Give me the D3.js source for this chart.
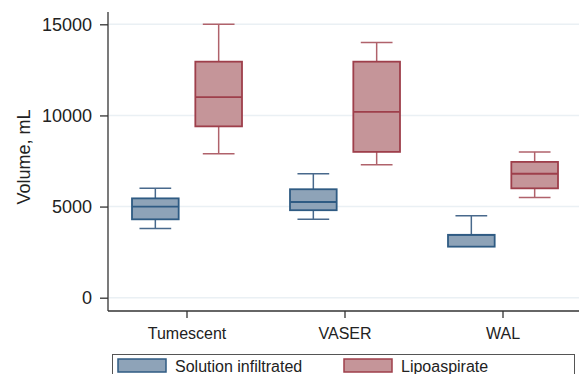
<!DOCTYPE html>
<html>
<head>
<meta charset="utf-8">
<script src="https://cdn.jsdelivr.net/npm/d3@7"></script>
<style>
  body { margin: 0; background: #fff; }
  svg { font-family: "Liberation Sans", Arial, sans-serif; }
</style>
</head>
<body>
<div id="chart"></div>
<script>
// data
var categories = ["Tumescent", "VASER", "WAL"];
var series = ["Solution infiltrated", "Lipoaspirate"];
// [low whisker, Q1, median, Q3, high whisker]
var solutionStats = [
  [3800, 4300, 5000, 5450, 6000],
  [4300, 4800, 5250, 5950, 6800],
  [2800, 2800, 3450, 3450, 4500]
];
var lipoStats = [
  [7900, 9400, 11000, 12950, 15000],
  [7300, 8000, 10200, 12950, 14000],
  [5500, 6000, 6800, 7450, 8000]
];
var yTicks = [0, 5000, 10000, 15000];

var W = 579, H = 374;
var fills = ["#8ea3b8", "#c59599"];
var strokes = ["#2f5b83", "#9e3f4b"];
var whiskerCols = ["#48698c", "#b0626b"];

var svg = d3.select("#chart").append("svg")
    .attr("width", W).attr("height", H);

var y = d3.scaleLinear().domain([0, 15000]).range([297.7, 24.3]);
var x = d3.scaleBand().domain(categories).range([108, 582]).padding(0);
var sub = d3.scaleBand().domain(series).range([-55, 55]).paddingInner(0.263);

// gridlines
svg.append("g").selectAll("line")
    .data(yTicks)
  .enter().append("line")
    .attr("x1", 109).attr("x2", W)
    .attr("y1", function(d) { return y(d); })
    .attr("y2", function(d) { return y(d); })
    .attr("stroke", "#eaf0f4").attr("stroke-width", 1.5);

// boxes
var rows = [];
categories.forEach(function(c, i) {
  rows.push({cat: c, s: 0, v: solutionStats[i]});
  rows.push({cat: c, s: 1, v: lipoStats[i]});
});

var g = svg.append("g").selectAll("g")
    .data(rows)
  .enter().append("g")
    .attr("transform", function(d) {
      return "translate(" + (x(d.cat) + x.bandwidth() / 2 + sub(series[d.s]) + sub.bandwidth() / 2) + ",0)";
    });

var bw = sub.bandwidth();
var capW = bw * 0.68;

// whiskers
g.append("line")
    .attr("x1", 0).attr("x2", 0)
    .attr("y1", function(d) { return y(d.v[4]); })
    .attr("y2", function(d) { return y(d.v[3]); })
    .attr("stroke", function(d) { return whiskerCols[d.s]; }).attr("stroke-width", 1.5);
g.append("line")
    .attr("x1", 0).attr("x2", 0)
    .attr("y1", function(d) { return y(d.v[1]); })
    .attr("y2", function(d) { return y(d.v[0]); })
    .attr("stroke", function(d) { return whiskerCols[d.s]; }).attr("stroke-width", 1.5);
g.append("line")
    .attr("x1", -capW / 2).attr("x2", capW / 2)
    .attr("y1", function(d) { return y(d.v[4]); })
    .attr("y2", function(d) { return y(d.v[4]); })
    .attr("stroke", function(d) { return whiskerCols[d.s]; }).attr("stroke-width", 1.5);
g.filter(function(d) { return d.v[0] < d.v[1]; }).append("line")
    .attr("x1", -capW / 2).attr("x2", capW / 2)
    .attr("y1", function(d) { return y(d.v[0]); })
    .attr("y2", function(d) { return y(d.v[0]); })
    .attr("stroke", function(d) { return whiskerCols[d.s]; }).attr("stroke-width", 1.5);

g.append("rect")
    .attr("x", -bw / 2).attr("width", bw)
    .attr("y", function(d) { return y(d.v[3]); })
    .attr("height", function(d) { return y(d.v[1]) - y(d.v[3]); })
    .attr("fill", function(d) { return fills[d.s]; })
    .attr("stroke", function(d) { return strokes[d.s]; })
    .attr("stroke-width", 1.8);
g.append("line")
    .attr("x1", -bw / 2).attr("x2", bw / 2)
    .attr("y1", function(d) { return y(d.v[2]); })
    .attr("y2", function(d) { return y(d.v[2]); })
    .attr("stroke", function(d) { return strokes[d.s]; })
    .attr("stroke-width", 1.8);

// y axis
var yAxis = svg.append("g")
    .attr("transform", "translate(108,0)")
    .call(d3.axisLeft(y).tickValues(yTicks).tickSize(8).tickPadding(8).tickFormat(d3.format("d")));
yAxis.select(".domain").attr("d", "M0,12V311").attr("stroke", "#333").attr("stroke-width", 1.3);
yAxis.selectAll(".tick line").attr("stroke", "#333").attr("stroke-width", 1.3);
yAxis.selectAll("text").attr("font-size", 18).attr("fill", "#222")
    .attr("font-family", "Liberation Sans, Arial, sans-serif");

// x axis
var xAxis = svg.append("g")
    .attr("transform", "translate(0,311)")
    .call(d3.axisBottom(x).tickSize(7).tickPadding(10));
xAxis.select(".domain").attr("d", "M108,0H579").attr("stroke", "#333").attr("stroke-width", 1.3);
xAxis.selectAll(".tick line").attr("stroke", "#333").attr("stroke-width", 1.3);
xAxis.selectAll("text").attr("font-size", 16).attr("fill", "#222")
    .attr("font-family", "Liberation Sans, Arial, sans-serif");

// y title
svg.append("text")
    .attr("transform", "translate(30,157) rotate(-90)")
    .attr("text-anchor", "middle")
    .attr("font-size", 18).attr("fill", "#222")
    .text("Volume, mL");

// legend
svg.append("rect")
    .attr("x", 112.5).attr("y", 354.5).attr("width", 462).attr("height", 40)
    .attr("fill", "none").attr("stroke", "#555").attr("stroke-width", 1);
var legX = [118, 344];
var leg = svg.append("g").selectAll("g")
    .data(series)
  .enter().append("g")
    .attr("transform", function(d, i) { return "translate(" + legX[i] + ",359)"; });
leg.append("rect")
    .attr("width", 48).attr("height", 13)
    .attr("fill", function(d, i) { return fills[i]; })
    .attr("stroke", function(d, i) { return strokes[i]; })
    .attr("stroke-width", 1.5);
leg.append("text")
    .attr("x", 57).attr("y", 12.5)
    .attr("font-size", 16).attr("fill", "#222")
    .text(function(d) { return d; });
</script>
</body>
</html>
